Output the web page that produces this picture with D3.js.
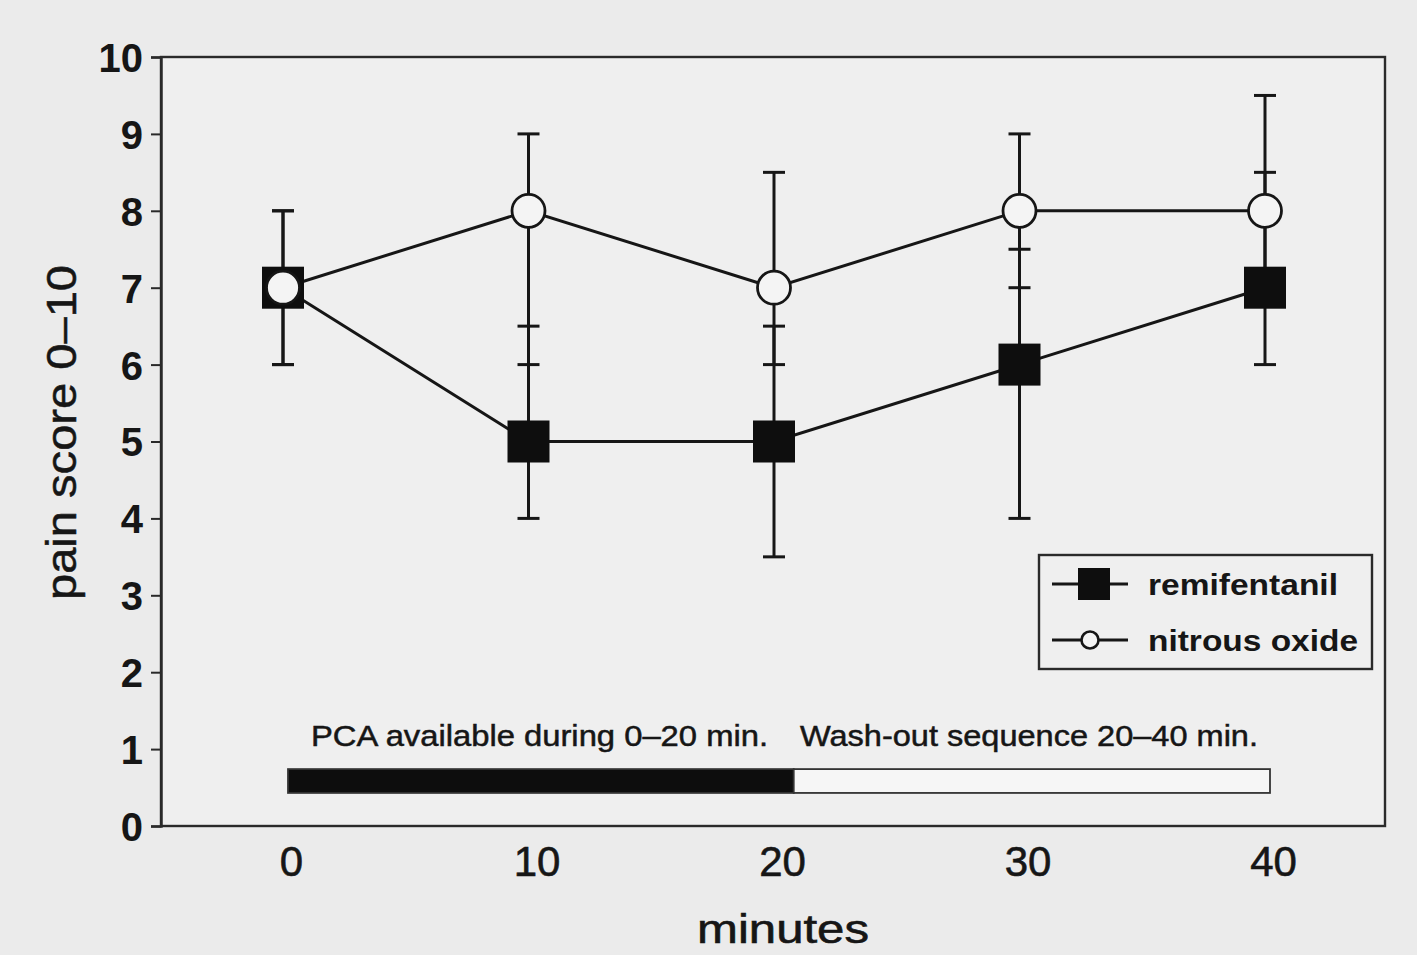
<!DOCTYPE html>
<html><head><meta charset="utf-8">
<script src="https://cdn.jsdelivr.net/npm/d3@7"></script>
<style>body{margin:0;background:#ebebeb;} svg{display:block;}</style>
</head><body>
<svg id="c" width="1417" height="955"></svg>
<script>
const minutes = [0, 10, 20, 30, 40];
const remiMid = [7, 5, 5, 6, 7];
const remiLo  = [6, 4, 3.5, 4, 6];
const remiHi  = [8, 6.5, 6.5, 7.5, 8.5];
const noxMid  = [7, 8, 7, 8, 8];
const noxLo   = [6, 6, 6, 7, 7];
const noxHi   = [8, 9, 8.5, 9, 9.5];
const yTicks = [0,1,2,3,4,5,6,7,8,9,10];
const xTicks = [0,10,20,30,40];
const seriesNames = ["remifentanil", "nitrous oxide"];
const phaseLabels = ["PCA available during 0–20 min.", "Wash-out sequence 20–40 min."];
const phases = [[0, 20.6, "black"], [20.6, 40, "white"]];

const svg = d3.select("#c");
const ink = "#161616";
const x = d3.scaleLinear().domain([0,40]).range([283,1265]);
const y = d3.scaleLinear().domain([0,10]).range([826,57]);
const left = 161, right = 1385;
const narrow = "Liberation Sans Narrow, Liberation Sans, Arial, sans-serif";

svg.append("rect").attr("width",1417).attr("height",955).attr("fill","#ebebeb");

// frame
svg.append("rect").attr("x",left).attr("y",y(10)).attr("width",right-left).attr("height",y(0)-y(10))
  .attr("fill","#efefef").attr("stroke","#2a2a2a").attr("stroke-width",2.4);

// y axis
const ya = svg.append("g").attr("transform",`translate(${left},0)`)
  .call(d3.axisLeft(y).tickValues(yTicks).tickSize(10).tickPadding(8));
ya.select(".domain").attr("stroke","#2a2a2a").attr("stroke-width",2.4);
ya.selectAll(".tick line").attr("stroke","#2a2a2a").attr("stroke-width",2);
ya.selectAll("text").attr("font-family","Liberation Sans, Arial, sans-serif").attr("font-weight","bold")
  .attr("font-size",40).attr("fill",ink).attr("dy","0.36em");

// x axis labels
const xa = svg.append("g").attr("transform",`translate(0,${y(0)})`)
  .call(d3.axisBottom(x).tickValues(xTicks).tickSize(0).tickPadding(20));
xa.select(".domain").remove();
xa.selectAll("text").attr("font-family",narrow).attr("font-size",42).attr("fill",ink)
  .attr("dx",8).attr("stroke",ink).attr("stroke-width",0.6);

// axis titles
svg.append("text").attr("transform",`translate(76,${(265+600)/2}) rotate(-90)`)
  .attr("text-anchor","middle").attr("font-family",narrow)
  .attr("font-size",42).attr("fill",ink).attr("stroke",ink).attr("stroke-width",0.5)
  .attr("textLength",335).attr("lengthAdjust","spacingAndGlyphs")
  .text("pain score 0–10");
svg.append("text").attr("x",783).attr("y",943).attr("text-anchor","middle")
  .attr("font-family",narrow).attr("font-size",40).attr("fill",ink).attr("stroke",ink).attr("stroke-width",0.6)
  .attr("textLength",172).attr("lengthAdjust","spacingAndGlyphs")
  .text("minutes");

// lines
const line = (vals) => d3.line().x((d,i)=>x(minutes[i])).y(d=>y(d))(vals);
svg.append("path").attr("d",line(remiMid)).attr("fill","none").attr("stroke",ink).attr("stroke-width",3);
svg.append("path").attr("d",line(noxMid)).attr("fill","none").attr("stroke",ink).attr("stroke-width",3);

// error bars
function errBars(lo, hi){
  const g = svg.append("g").attr("stroke",ink).attr("stroke-width",3);
  minutes.forEach((m,i)=>{
    g.append("line").attr("x1",x(m)).attr("x2",x(m)).attr("y1",y(lo[i])).attr("y2",y(hi[i]));
    [lo[i],hi[i]].forEach(v=>{
      g.append("line").attr("x1",x(m)-11).attr("x2",x(m)+11).attr("y1",y(v)).attr("y2",y(v));
    });
  });
}
errBars(remiLo, remiHi);
errBars(noxLo, noxHi);

// markers
svg.append("g").selectAll("rect").data(remiMid).join("rect")
  .attr("x",(d,i)=>x(minutes[i])-21).attr("y",d=>y(d)-21).attr("width",42).attr("height",42).attr("fill","#0e0e0e");
svg.append("g").selectAll("circle").data(noxMid).join("circle")
  .attr("cx",(d,i)=>x(minutes[i])).attr("cy",d=>y(d)).attr("r",16.5)
  .attr("fill","#f4f4f4").attr("stroke",ink).attr("stroke-width",2.8);

// legend
svg.append("rect").attr("x",1039).attr("y",555).attr("width",333).attr("height",114)
  .attr("fill","#efefef").attr("stroke","#2a2a2a").attr("stroke-width",2.4);
const legY = [584, 640];
legY.forEach((ly,k)=>{
  svg.append("line").attr("x1",1052).attr("x2",1128).attr("y1",ly).attr("y2",ly).attr("stroke",ink).attr("stroke-width",2.8);
  if(k===0){
    svg.append("rect").attr("x",1078).attr("y",ly-16).attr("width",32).attr("height",32).attr("fill","#0e0e0e");
  } else {
    svg.append("circle").attr("cx",1090).attr("cy",ly).attr("r",8.5).attr("fill","#f4f4f4").attr("stroke",ink).attr("stroke-width",2.6);
  }
  svg.append("text").attr("x",1148).attr("y",ly+11).attr("font-family","Liberation Sans, Arial, sans-serif")
    .attr("font-weight","bold").attr("font-size",30).attr("fill",ink)
    .attr("textLength",k===0?190:210).attr("lengthAdjust","spacingAndGlyphs").text(seriesNames[k]);
});

// phase bar
phases.forEach(p=>{
  svg.append("rect").attr("x",x(p[0])+5).attr("y",y(0.74)).attr("width",x(p[1])-x(p[0]))
    .attr("height",y(0.43)-y(0.74)).attr("fill",p[2]==="black"?"#0d0d0d":"#f6f6f6")
    .attr("stroke","#333").attr("stroke-width",1.8);
});
svg.append("text").attr("x",311).attr("y",746).attr("font-family",narrow)
  .attr("font-size",29).attr("fill",ink).attr("stroke",ink).attr("stroke-width",0.5)
  .attr("textLength",457).attr("lengthAdjust","spacingAndGlyphs").text(phaseLabels[0]);
svg.append("text").attr("x",800).attr("y",746).attr("font-family",narrow)
  .attr("font-size",29).attr("fill",ink).attr("stroke",ink).attr("stroke-width",0.5)
  .attr("textLength",458).attr("lengthAdjust","spacingAndGlyphs").text(phaseLabels[1]);
</script>
</body></html>
